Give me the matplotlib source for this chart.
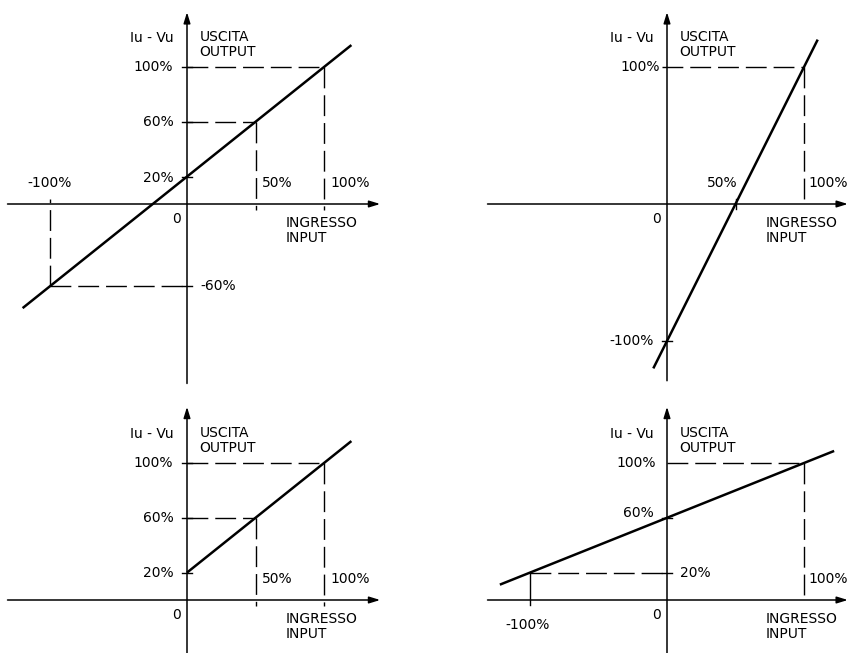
import matplotlib.pyplot as plt

plt.rcParams['font.family'] = ['DejaVu Sans']
plt.rcParams['lines.scale_dashes'] = False

W, H = 851, 653
S = 137  # pixel per unita' (100%)

# pannello 1: uscita 20%..100%, ingresso -100%..100%
p1_line_x = [-1.2, 1.2]
p1_line_y = [-0.76, 1.16]
p1_guide_x = [-1.0, 0.5, 1.0]
p1_guide_y = [-0.6, 0.6, 1.0]

# pannello 2: uscita -100%..100%, ingresso 50%..100%
p2_line_x = [-0.1, 1.1]
p2_line_y = [-1.2, 1.2]
p2_guide_x = [1.0]
p2_guide_y = [1.0]

# pannello 3: uscita 20%..100%, ingresso 0..100%
p3_line_x = [0.0, 1.2]
p3_line_y = [0.2, 1.16]
p3_guide_x = [0.5, 1.0]
p3_guide_y = [0.6, 1.0]

# pannello 4: uscita 20%..100%, ingresso -100%..100%
p4_line_x = [-1.22, 1.22]
p4_line_y = [0.112, 1.088]
p4_guide_x = [-1.0, 1.0]
p4_guide_y = [0.2, 1.0]

DASH = (0, (15, 5))
FS = 10

fig = plt.figure(figsize=(W / 100, H / 100), dpi=100)


def make_axes(ox, oy, xr, yr):
    l = ox + xr[0] * S
    r = ox + xr[1] * S
    t = oy - yr[1] * S
    b = oy - yr[0] * S
    ax = fig.add_axes([l / W, 1 - b / H, (r - l) / W, (b - t) / H])
    ax.set_xlim(*xr)
    ax.set_ylim(*yr)
    ax.axis('off')
    return ax


def draw_axes(ax, xa, ya):
    arrow = dict(arrowstyle='-|>,head_length=0.65,head_width=0.2', lw=1.1,
                 color='k', shrinkA=0, shrinkB=0)
    ax.annotate('', xy=(xa[1], 0), xytext=(xa[0], 0), arrowprops=arrow)
    ax.annotate('', xy=(0, ya[1]), xytext=(0, ya[0]), arrowprops=arrow)


def hdash(ax, x0, x1, y):
    ax.plot([x0, x1], [y, y], color='k', lw=1.0, linestyle=DASH, clip_on=False)


def vdash(ax, x, y0, y1):
    ax.plot([x, x], [y0, y1], color='k', lw=1.0, linestyle=DASH, clip_on=False)


def tick_y(ax, y, a=-0.035, b=0.035):
    ax.plot([a, b], [y, y], color='k', lw=1.0)


def tick_x(ax, x, a=-0.035, b=0.035):
    ax.plot([x, x], [a, b], color='k', lw=1.0)


def labels_common(ax, iv_x):
    ax.text(iv_x, 1.21, 'Iu - Vu', ha='right', va='center', fontsize=FS)
    ax.text(0.09, 1.27, 'USCITA\nOUTPUT', ha='left', va='top', fontsize=FS,
            linespacing=1.1)
    ax.text(0.72, -0.09, 'INGRESSO\nINPUT', ha='left', va='top', fontsize=FS,
            linespacing=1.1)
    ax.text(-0.075, -0.11, '0', ha='center', va='center', fontsize=FS)


# ---------- pannello 1 ----------
ax1 = make_axes(187, 204, (-1.36, 1.48), (-1.34, 1.45))
draw_axes(ax1, (-1.31, 1.41), (-1.31, 1.40))
hdash(ax1, p1_guide_x[0], 0, p1_guide_y[0])
vdash(ax1, p1_guide_x[0], p1_guide_y[0], 0.035)
for gx, gy in zip(p1_guide_x[1:], p1_guide_y[1:]):
    hdash(ax1, 0, gx, gy)
    vdash(ax1, gx, gy, -0.045)
for gy in [1.0, 0.6, 0.2, -0.6]:
    tick_y(ax1, gy)
ax1.plot(p1_line_x, p1_line_y, color='k', lw=1.8, solid_capstyle='butt')
labels_common(ax1, -0.10)
ax1.text(-0.10, 1.0, '100%', ha='right', va='center', fontsize=FS)
ax1.text(-0.10, 0.6, '60%', ha='right', va='center', fontsize=FS)
ax1.text(-0.10, 0.19, '20%', ha='right', va='center', fontsize=FS)
ax1.text(0.095, -0.6, '-60%', ha='left', va='center', fontsize=FS)
ax1.text(-1.0, 0.15, '-100%', ha='center', va='center', fontsize=FS)
ax1.text(0.55, 0.15, '50%', ha='left', va='center', fontsize=FS)
ax1.text(1.05, 0.15, '100%', ha='left', va='center', fontsize=FS)

# ---------- pannello 2 ----------
ax2 = make_axes(667, 204, (-1.36, 1.34), (-1.34, 1.45))
draw_axes(ax2, (-1.31, 1.32), (-1.29, 1.40))
for gx, gy in zip(p2_guide_x, p2_guide_y):
    hdash(ax2, -0.04, gx, gy)
    vdash(ax2, gx, gy, 0)
tick_y(ax2, -1.0)
tick_x(ax2, 0.5)
ax2.plot(p2_line_x, p2_line_y, color='k', lw=1.8, solid_capstyle='butt')
labels_common(ax2, -0.095)
ax2.text(-0.05, 1.0, '100%', ha='right', va='center', fontsize=FS)
ax2.text(-0.095, -1.0, '-100%', ha='right', va='center', fontsize=FS)
ax2.text(0.40, 0.15, '50%', ha='center', va='center', fontsize=FS)
ax2.text(1.03, 0.15, '100%', ha='left', va='center', fontsize=FS)

# ---------- pannello 3 ----------
ax3 = make_axes(187, 600, (-1.36, 1.48), (-0.38, 1.45))
draw_axes(ax3, (-1.31, 1.41), (-0.40, 1.41))
for gx, gy in zip(p3_guide_x, p3_guide_y):
    hdash(ax3, 0, gx, gy)
    vdash(ax3, gx, gy, -0.045)
for gy in [1.0, 0.6, 0.2]:
    tick_y(ax3, gy)
ax3.plot(p3_line_x, p3_line_y, color='k', lw=1.8, solid_capstyle='butt')
labels_common(ax3, -0.10)
ax3.text(-0.10, 1.0, '100%', ha='right', va='center', fontsize=FS)
ax3.text(-0.10, 0.6, '60%', ha='right', va='center', fontsize=FS)
ax3.text(-0.10, 0.2, '20%', ha='right', va='center', fontsize=FS)
ax3.text(0.55, 0.15, '50%', ha='left', va='center', fontsize=FS)
ax3.text(1.05, 0.15, '100%', ha='left', va='center', fontsize=FS)

# ---------- pannello 4 ----------
ax4 = make_axes(667, 600, (-1.36, 1.34), (-0.38, 1.45))
draw_axes(ax4, (-1.31, 1.32), (-0.40, 1.41))
hdash(ax4, 0, p4_guide_x[1], p4_guide_y[1])
vdash(ax4, p4_guide_x[1], p4_guide_y[1], 0)
hdash(ax4, p4_guide_x[0], 0, p4_guide_y[0])
ax4.plot([p4_guide_x[0], p4_guide_x[0]], [p4_guide_y[0], -0.04], color='k', lw=1.0)
for gy in [0.6, 0.2]:
    tick_y(ax4, gy)
ax4.plot(p4_line_x, p4_line_y, color='k', lw=1.8, solid_capstyle='butt')
labels_common(ax4, -0.095)
ax4.text(-0.08, 1.0, '100%', ha='right', va='center', fontsize=FS)
ax4.text(-0.10, 0.635, '60%', ha='right', va='center', fontsize=FS)
ax4.text(0.095, 0.2, '20%', ha='left', va='center', fontsize=FS)
ax4.text(-1.02, -0.18, '-100%', ha='center', va='center', fontsize=FS)
ax4.text(1.03, 0.15, '100%', ha='left', va='center', fontsize=FS)

fig.savefig('out.png', dpi=100, facecolor='white')
